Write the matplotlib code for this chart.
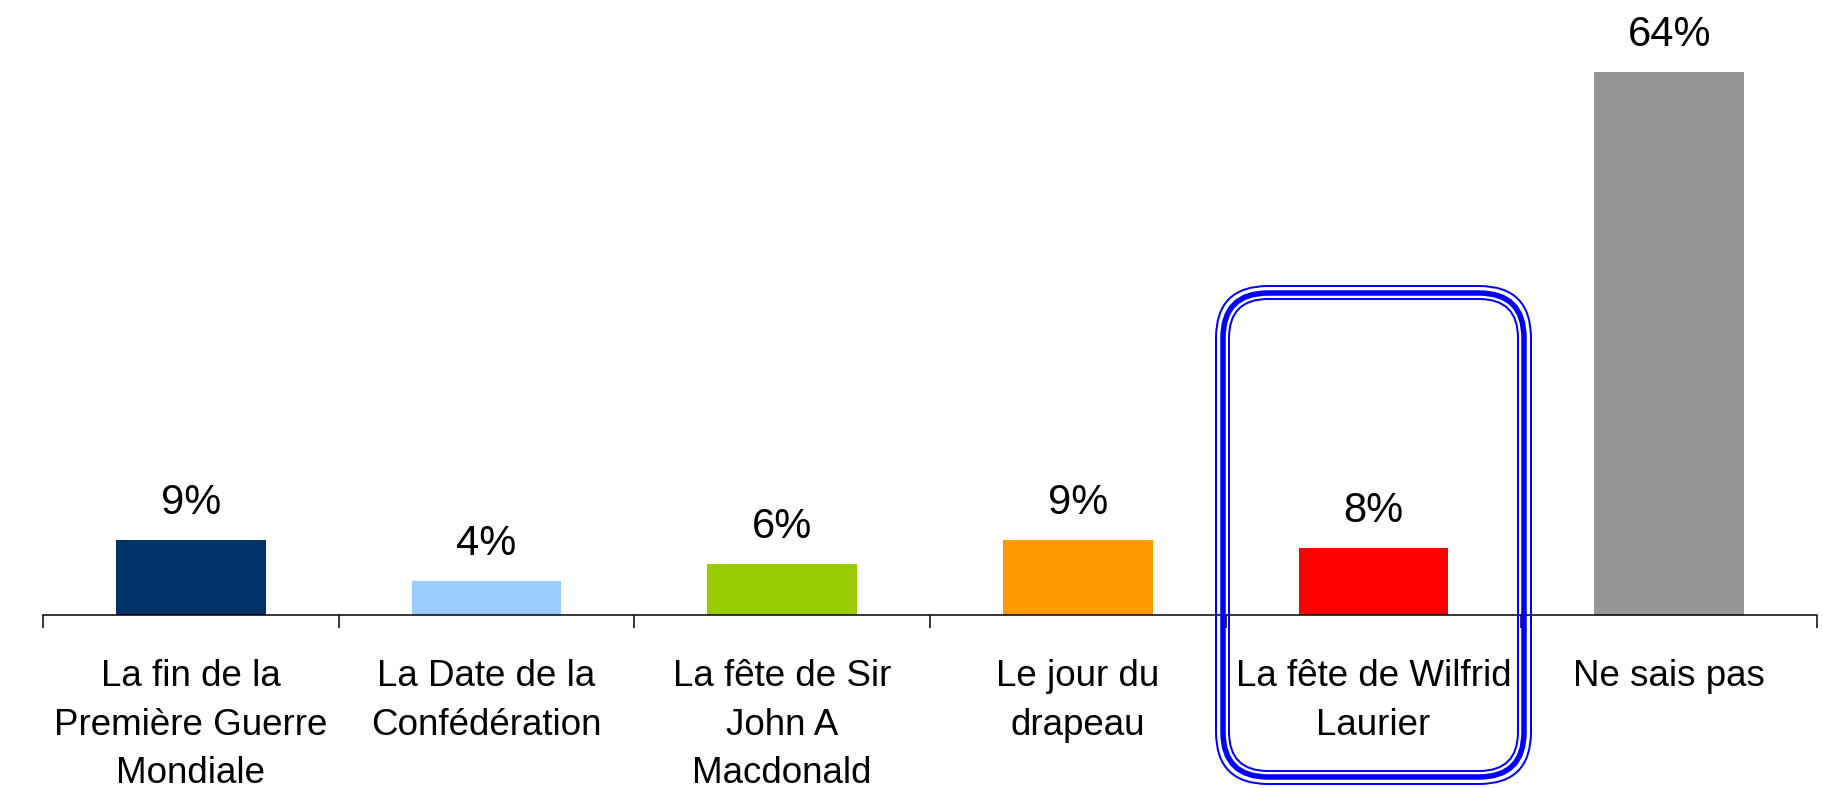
import matplotlib.pyplot as plt
from matplotlib.patches import FancyBboxPatch

plt.rcParams['font.family'] = ['Liberation Sans', 'DejaVu Sans']

categories = ["La fin de la\nPremière Guerre\nMondiale",
              "La Date de la\nConfédération",
              "La fête de Sir\nJohn A\nMacdonald",
              "Le jour du\ndrapeau",
              "La fête de Wilfrid\nLaurier",
              "Ne sais pas"]
values = [8.8, 4.0, 6.0, 8.8, 7.9, 64.0]
colors = ["#003366", "#99CCFF", "#99CC00", "#FF9900", "#FF0000", "#969696"]
highlight = 4  # index of the category with the blue box

W, H, DPI = 1823, 788, 100
fig = plt.figure(figsize=(W / DPI, H / DPI), dpi=DPI)
ax = fig.add_axes([43 / W, (H - 615) / H, 1774 / W, 594 / H])

x = list(range(len(values)))
ax.bar(x, values, width=0.507, color=colors)

for xi, v in zip(x, values):
    ax.annotate(f"{v:.0f}%", (xi, v), xytext=(0, 19), textcoords="offset points",
                ha="center", va="baseline", fontsize=30)

ax.set_xlim(-0.5, len(values) - 0.5)
ax.set_ylim(0, 70)
ax.set_yticks([])
for s in ["top", "right", "left"]:
    ax.spines[s].set_visible(False)
ax.spines["bottom"].set_linewidth(1.1)

ax.set_xticks([i - 0.5 for i in range(len(values) + 1)])
ax.set_xticklabels([])
ax.tick_params(axis="x", which="major", direction="out", length=9.5, width=1.1)
ax.set_xticks(x, minor=True)
ax.set_xticklabels(categories, minor=True, fontsize=26.5, linespacing=1.49)
ax.tick_params(axis="x", which="minor", length=0, pad=32)

# triple-line rounded box around the highlighted category
cx = ax.transData.transform((highlight, 0))[0]
rings = [  # half width, top, bottom (px from top), radius, line width px
    (157.5, 286, 784, 52, 2.0),
    (150.5, 293, 777, 45, 5.5),
    (144.5, 299, 771, 39, 2.0),
]
for hw, top, bot, r, lw in rings:
    p = FancyBboxPatch(((cx - hw) / DPI, (H - bot) / DPI), 2 * hw / DPI, (bot - top) / DPI,
                       boxstyle=f"round,pad=0,rounding_size={r / DPI}",
                       transform=fig.dpi_scale_trans, fill=False, ec="#0000FF",
                       lw=lw * 72 / DPI)
    fig.add_artist(p)

fig.savefig("out.png", dpi=DPI)
